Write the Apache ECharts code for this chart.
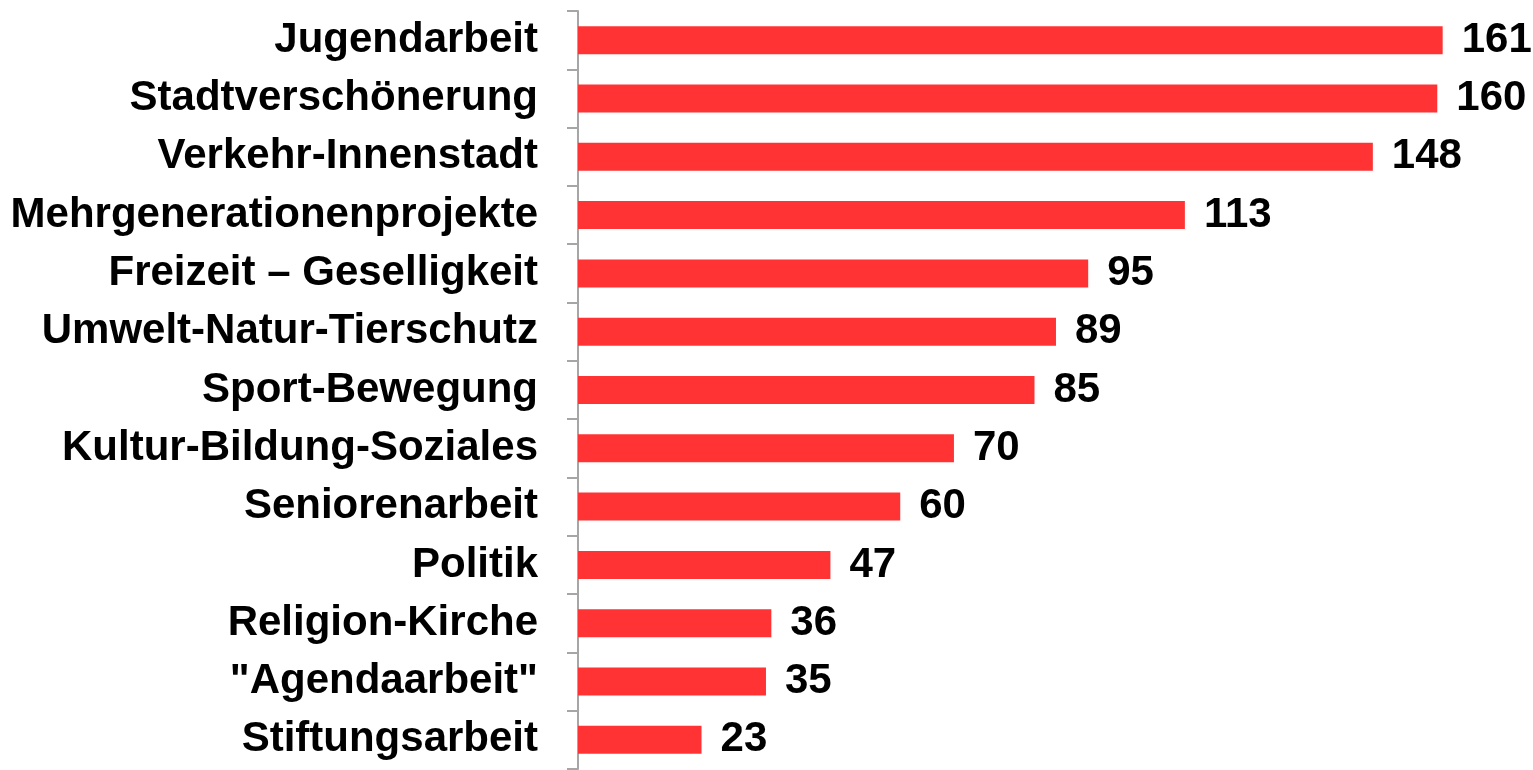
<!DOCTYPE html>
<html>
<head>
    <meta charset="utf-8">
    <title>ECharts</title>
    <script src="https://cdn.jsdelivr.net/npm/echarts@6/dist/echarts.min.js"></script>
    <style>
        html, body { margin: 0; padding: 0; background: #fff; }
    </style>
</head>
<body>
    <div id="main" style="width: 1533px;height:770px;"></div>
    <script type="text/javascript">
        var categories = [
            'Jugendarbeit',
            'Stadtverschönerung',
            'Verkehr-Innenstadt',
            'Mehrgenerationenprojekte',
            'Freizeit – Geselligkeit',
            'Umwelt-Natur-Tierschutz',
            'Sport-Bewegung',
            'Kultur-Bildung-Soziales',
            'Seniorenarbeit',
            'Politik',
            'Religion-Kirche',
            '"Agendaarbeit"',
            'Stiftungsarbeit'
        ];
        var values = [161, 160, 148, 113, 95, 89, 85, 70, 60, 47, 36, 35, 23];

        var myChart = echarts.init(document.getElementById('main'));

        var option = {
            backgroundColor: '#ffffff',
            animation: false,
            grid: {
                left: 578,
                right: 42,
                top: 11,
                bottom: 1,
                containLabel: false,
                outerBoundsMode: 'none'
            },
            xAxis: {
                type: 'value',
                min: 0,
                max: 170,
                show: false
            },
            yAxis: {
                type: 'category',
                data: categories,
                inverse: true,
                axisLine: {
                    show: true,
                    lineStyle: { color: '#a6a6a6', width: 2 }
                },
                axisTick: {
                    show: true,
                    length: 11,
                    lineStyle: { color: '#a6a6a6', width: 2 }
                },
                axisLabel: {
                    margin: 40,
                    color: '#000',
                    fontFamily: 'Liberation Sans, Arial, sans-serif',
                    fontWeight: 'bold',
                    fontSize: 42,
                    padding: [4, 0, 0, 0]
                },
                splitLine: { show: false }
            },
            series: [{
                type: 'bar',
                data: values,
                barWidth: 28,
                itemStyle: { color: '#ff3333' },
                label: {
                    show: true,
                    position: 'right',
                    distance: 19,
                    color: '#000',
                    fontFamily: 'Liberation Sans, Arial, sans-serif',
                    fontWeight: 'bold',
                    fontSize: 42,
                    padding: [4, 0, 0, 0]
                }
            }]
        };

        myChart.setOption(option);
    </script>
</body>
</html>
